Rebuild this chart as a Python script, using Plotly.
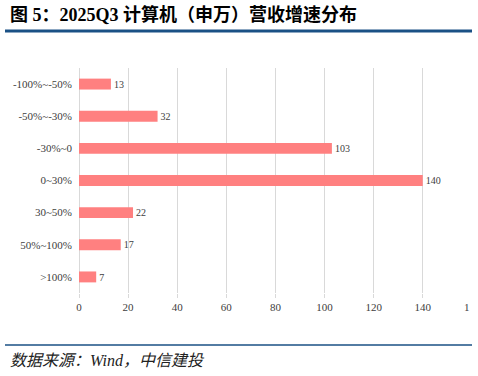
import plotly.graph_objects as go

categories = ["-100%~-50%", "-50%~-30%", "-30%~0", "0~30%", "30~50%", "50%~100%", ">100%"]
counts = [13, 32, 103, 140, 22, 17, 7]
x_ticks = [0, 20, 40, 60, 80, 100, 120, 140]

title_text = "图 5：2025Q3 计算机（申万）营收增速分布"
source_text = "数据来源：Wind，中信建投"

serif = "Liberation Serif, Noto Sans CJK SC, serif"
blue = "#1A5185"

fig = go.Figure()
fig.add_trace(go.Bar(
    x=counts, y=categories, orientation="h",
    marker=dict(color="#FF8080", line=dict(width=0)),
    text=[str(v) for v in counts], textposition="outside",
    textfont=dict(family=serif, size=11, color="#404040"),
    cliponaxis=False, width=0.34,
))

fig.update_layout(
    width=478, height=376,
    margin=dict(l=79, r=0, t=68, b=83),
    paper_bgcolor="white", plot_bgcolor="white",
    showlegend=False,
    font=dict(family=serif, size=11, color="#404040"),
    xaxis=dict(range=[0, 162.5], tickvals=x_ticks, showgrid=True, gridcolor="#D9D9D9", gridwidth=1,
               zeroline=True, zerolinecolor="#D9D9D9", zerolinewidth=1, showline=False,
               ticks="outside", ticklen=4, tickcolor="#D9D9D9",
               tickfont=dict(family=serif, size=11, color="#404040")),
    yaxis=dict(autorange="reversed", showgrid=False, zeroline=False, showline=False, ticks="",
               ticklabelstandoff=6, tickfont=dict(family=serif, size=11, color="#404040")),
    annotations=[
        dict(text=title_text, xref="paper", yref="paper", x=-71/399, y=1 + (68-14)/225,
             xanchor="left", yanchor="middle", showarrow=False,
             font=dict(family="Liberation Serif, Noto Sans CJK SC", size=18, color="#000000", weight="bold")),
        dict(text=source_text, xref="paper", yref="paper", x=-71/399, y=-(360-293)/225,
             xanchor="left", yanchor="middle", showarrow=False,
             font=dict(family="Liberation Serif, Noto Sans CJK SC", size=16, color="#222222", style="italic")),
        dict(text="1", xref="x", yref="paper", x=160, y=-(307-293)/225, xshift=-5,
             xanchor="center", yanchor="middle", showarrow=False,
             font=dict(family=serif, size=11, color="#404040")),
    ],
    shapes=[
        dict(type="line", xref="paper", yref="paper", x0=-74/399, x1=(472-79)/399,
             y0=1 + (68-31)/225, y1=1 + (68-31)/225, line=dict(color=blue, width=3)),
        dict(type="line", xref="paper", yref="paper", x0=-74/399, x1=(472-79)/399,
             y0=-(345-293)/225, y1=-(345-293)/225, line=dict(color=blue, width=1.5)),
    ],
)

fig.write_html("out.html", config={"displayModeBar": False},
               post_script="document.body.style.margin='0';document.body.style.overflow='hidden';")
